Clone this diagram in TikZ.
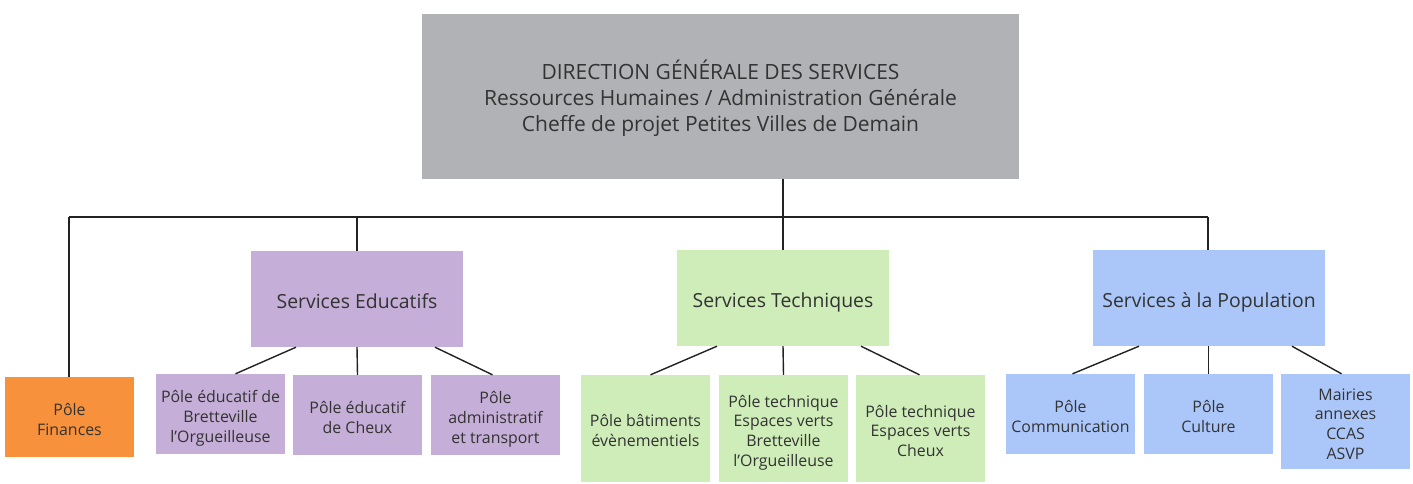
\documentclass[tikz,border=0pt]{standalone}
\usepackage{fontspec}
\setmainfont{Open Sans}
\definecolor{cgray}{HTML}{B1B2B5}
\definecolor{corange}{HTML}{F7913B}
\definecolor{cpurple}{HTML}{C5AED7}
\definecolor{cgreen}{HTML}{CFEDB9}
\definecolor{cblue}{HTML}{ABC7FA}
\definecolor{ctext}{HTML}{333333}
\definecolor{cline}{HTML}{222222}
\newcommand{\toptxt}[1]{\rule{0pt}{24.6pt}#1\rule[-6pt]{0pt}{6pt}}
\newcommand{\midtxt}[1]{\rule{0pt}{24.6pt}#1\rule[-5pt]{0pt}{5pt}}
\newcommand{\subtxt}[1]{\rule{0pt}{21.1pt}#1\rule[-4.5pt]{0pt}{4.5pt}}
\begin{document}
\begin{tikzpicture}[x=1pt,y=-1pt,
  box/.style={inner sep=0pt, align=center, text=ctext},
  topbox/.style={box, fill=cgray, font=\fontsize{21}{26}\selectfont},
  midbox/.style={box, font=\fontsize{19.4}{22}\selectfont, minimum height=96pt},
  subbox/.style={box, font=\fontsize{15.9}{19.8}\selectfont, minimum width=129pt},
  link/.style={draw=cline, line width=1.4pt}]
\useasboundingbox (0,0) rectangle (1413,483);
\fill[white] (0,0) rectangle (1413,483);

\node[topbox, minimum width=597pt, minimum height=165pt] (dgs) at (720.5,96.5)
  {\toptxt{DIRECTION GÉNÉRALE DES SERVICES\\Ressources Humaines / Administration Générale\\Cheffe de projet Petites Villes de Demain}};

\node[midbox, fill=cpurple, minimum width=212pt] (edu) at (357,299) {\midtxt{Services Educatifs}};
\node[midbox, fill=cgreen, minimum width=212pt] (tech) at (783,298) {\midtxt{Services Techniques}};
\node[midbox, fill=cblue, minimum width=232pt] (pop) at (1209,298) {\midtxt{Services à la Population}};

\node[subbox, fill=corange, minimum height=80pt] (fin) at (69.5,417) {\subtxt{Pôle\\Finances}};

\node[subbox, fill=cpurple, minimum height=80pt] (eduA) at (220.5,414) {\subtxt{Pôle éducatif de\\Bretteville\\l'Orgueilleuse}};
\node[subbox, fill=cpurple, minimum height=80pt] (eduB) at (357.5,415) {\subtxt{Pôle éducatif\\de Cheux}};
\node[subbox, fill=cpurple, minimum height=80pt] (eduC) at (495.5,415) {\subtxt{Pôle\\administratif\\et transport}};

\node[subbox, fill=cgreen, minimum height=107pt] (techA) at (645.5,428.5) {\subtxt{Pôle bâtiments\\évènementiels}};
\node[subbox, fill=cgreen, minimum height=107pt] (techB) at (783.5,428.5) {\subtxt{Pôle technique\\Espaces verts\\Bretteville\\l'Orgueilleuse}};
\node[subbox, fill=cgreen, minimum height=107pt] (techC) at (920.5,428.5) {\subtxt{Pôle technique\\Espaces verts\\Cheux}};

\node[subbox, fill=cblue, minimum height=80pt] (popA) at (1070.5,414) {\subtxt{Pôle\\Communication}};
\node[subbox, fill=cblue, minimum height=80pt] (popB) at (1208.5,414) {\subtxt{Pôle\\Culture}};
\node[subbox, fill=cblue, minimum height=95pt] (popC) at (1345.5,421.5) {\subtxt{Mairies\\annexes\\CCAS\\ASVP}};

% bus
\coordinate (busL) at (69,217);
\coordinate (busR) at (1208,217);
\coordinate (busC) at (783,217);
\coordinate (busE) at (357,217);
\draw[link] (busL) -- (busR);
\draw[link] (dgs.south -| busC) -- (tech.north -| busC);
\draw[link] (busL) -- (fin.north -| busL);
\draw[link] (busE) -- (edu.north -| busE);
\draw[link] (busR) -- (pop.north -| busR);

% educ children
\draw[link] ([xshift=-61pt]edu.south) -- ([xshift=15pt]eduA.north);
\draw[link] (edu.south) -- (eduB.north);
\draw[link] ([xshift=78pt]edu.south) -- ([xshift=-3pt]eduC.north);
% tech children
\draw[link] ([xshift=-66pt]tech.south) -- ([xshift=5pt]techA.north);
\draw[link] (tech.south) -- (techB.north);
\draw[link] ([xshift=78pt]tech.south) -- ([xshift=-1pt]techC.north);
% pop children
\draw[link] ([xshift=-70pt]pop.south) -- ([xshift=2pt]popA.north);
\draw[link] (pop.south -| popB.north) -- (popB.north);
\draw[link] ([xshift=83pt]pop.south) -- ([xshift=-4pt]popC.north);
\end{tikzpicture}
\end{document}
